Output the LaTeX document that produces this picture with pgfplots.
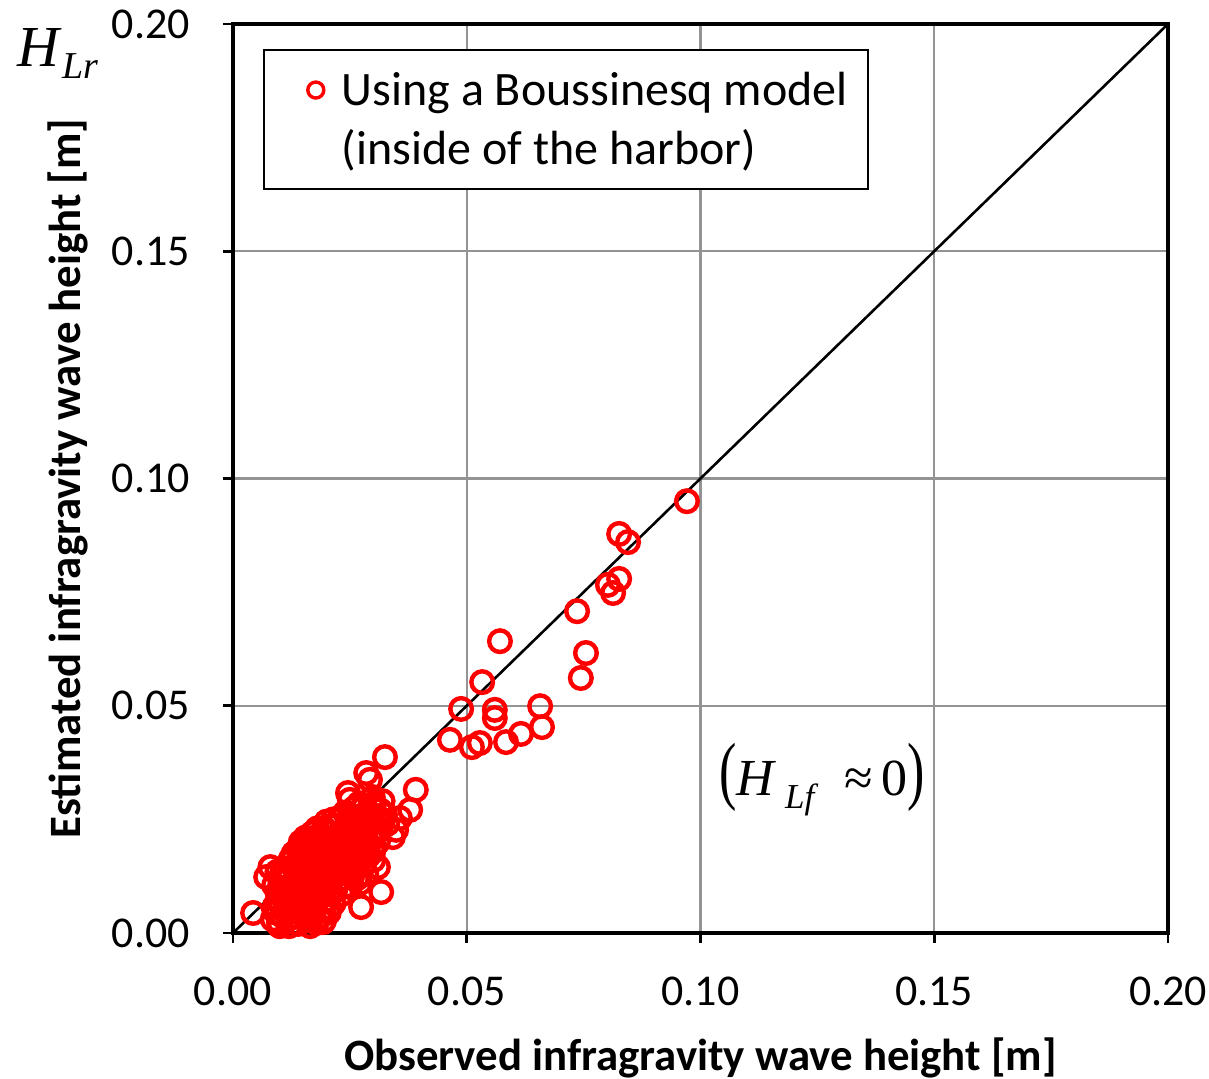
\documentclass[border=0pt]{standalone}
\usepackage{pgfplots}
\pgfplotsset{compat=1.18}
\usepackage{fontspec}
\setmainfont{Carlito}
\newfontfamily\tnr{Liberation Serif}
\pgfplotstableread{
x y
0.0971 0.0950
0.0826 0.0878
0.0845 0.0860
0.0826 0.0779
0.0802 0.0766
0.0813 0.0748
0.0736 0.0708
0.0755 0.0616
0.0744 0.0561
0.0571 0.0642
0.0533 0.0552
0.0488 0.0493
0.0560 0.0491
0.0560 0.0473
0.0657 0.0499
0.0661 0.0453
0.0464 0.0425
0.0511 0.0409
0.0528 0.0418
0.0584 0.0420
0.0616 0.0438
0.0325 0.0387
0.0285 0.0352
0.0293 0.0337
0.0391 0.0315
0.0379 0.0271
0.0357 0.0253
0.0246 0.0308
0.0250 0.0293
0.0349 0.0227
0.0342 0.0211
0.0310 0.0145
0.0317 0.0090
0.0274 0.0057
0.0193 0.0024
0.0043 0.0044
0.0071 0.0123
0.0272 0.0110
0.0250 0.0101
0.0299 0.0277
0.0299 0.0299
0.0080 0.0145
0.0095 0.0135
0.0085 0.0030
0.0092 0.0045
0.0098 0.0025
0.0105 0.0038
0.0112 0.0052
0.0118 0.0030
0.0125 0.0046
0.0132 0.0036
0.0140 0.0058
0.0150 0.0040
0.0160 0.0030
0.0172 0.0048
0.0185 0.0035
0.0195 0.0028
0.0205 0.0045
0.0090 0.0060
0.0100 0.0070
0.0110 0.0080
0.0095 0.0090
0.0108 0.0100
0.0118 0.0068
0.0128 0.0078
0.0136 0.0090
0.0145 0.0070
0.0155 0.0085
0.0165 0.0065
0.0175 0.0078
0.0185 0.0092
0.0195 0.0070
0.0210 0.0085
0.0220 0.0100
0.0088 0.0105
0.0100 0.0120
0.0112 0.0115
0.0122 0.0130
0.0132 0.0110
0.0142 0.0125
0.0150 0.0105
0.0160 0.0118
0.0170 0.0135
0.0180 0.0110
0.0190 0.0125
0.0200 0.0140
0.0210 0.0115
0.0225 0.0130
0.0235 0.0120
0.0245 0.0105
0.0255 0.0125
0.0110 0.0140
0.0120 0.0155
0.0130 0.0145
0.0140 0.0160
0.0150 0.0150
0.0160 0.0165
0.0170 0.0155
0.0180 0.0170
0.0190 0.0150
0.0200 0.0165
0.0210 0.0180
0.0220 0.0160
0.0230 0.0150
0.0240 0.0170
0.0250 0.0155
0.0260 0.0140
0.0270 0.0165
0.0280 0.0150
0.0130 0.0175
0.0140 0.0185
0.0150 0.0195
0.0160 0.0180
0.0170 0.0190
0.0180 0.0200
0.0190 0.0185
0.0200 0.0195
0.0210 0.0205
0.0220 0.0190
0.0230 0.0200
0.0240 0.0185
0.0250 0.0195
0.0260 0.0180
0.0270 0.0200
0.0280 0.0185
0.0290 0.0195
0.0300 0.0180
0.0155 0.0210
0.0170 0.0220
0.0185 0.0215
0.0195 0.0230
0.0205 0.0220
0.0215 0.0235
0.0225 0.0215
0.0235 0.0225
0.0245 0.0240
0.0255 0.0220
0.0265 0.0235
0.0275 0.0215
0.0285 0.0225
0.0295 0.0240
0.0305 0.0220
0.0315 0.0230
0.0200 0.0245
0.0215 0.0250
0.0230 0.0255
0.0250 0.0260
0.0270 0.0250
0.0290 0.0265
0.0310 0.0255
0.0320 0.0245
0.0260 0.0275
0.0280 0.0280
0.0300 0.0285
0.0315 0.0270
0.0100 0.0015
0.0120 0.0015
0.0140 0.0020
0.0165 0.0015
0.0178 0.0022
0.0115 0.0060
0.0135 0.0065
0.0155 0.0060
0.0175 0.0060
0.0195 0.0055
0.0215 0.0065
0.0102 0.0085
0.0122 0.0095
0.0142 0.0100
0.0162 0.0095
0.0182 0.0080
0.0200 0.0100
0.0232 0.0085
0.0238 0.0140
0.0117 0.0120
0.0137 0.0135
0.0157 0.0135
0.0177 0.0145
0.0197 0.0110
0.0217 0.0145
0.0247 0.0130
0.0265 0.0120
0.0285 0.0130
0.0125 0.0165
0.0145 0.0170
0.0165 0.0150
0.0185 0.0160
0.0205 0.0150
0.0225 0.0175
0.0245 0.0155
0.0265 0.0160
0.0290 0.0170
0.0300 0.0160
0.0145 0.0200
0.0165 0.0205
0.0185 0.0190
0.0215 0.0195
0.0235 0.0210
0.0255 0.0205
0.0275 0.0190
0.0295 0.0210
0.0310 0.0200
0.0180 0.0230
0.0210 0.0235
0.0240 0.0230
0.0260 0.0245
0.0280 0.0240
0.0300 0.0250
0.0325 0.0260
0.0240 0.0265
0.0270 0.0285
0.0320 0.0290
0.0330 0.0240
}\obsdata
\begin{document}
\begin{tikzpicture}
\useasboundingbox (-116.5pt,-73pt) rectangle (488pt,466.5pt);
\begin{axis}[
  at={(0,0)}, anchor=south west,
  scale only axis, width=467.5pt, height=454.5pt,
  xmin=0, xmax=0.2, ymin=0, ymax=0.2,
  xtick={0,0.05,0.1,0.15,0.2}, ytick={0,0.05,0.1,0.15,0.2},
  /pgf/number format/assume math mode=true,
  /pgf/number format/.cd, fixed, fixed zerofill, precision=2, /pgfplots/.cd,
  scaled ticks=false,
  grid=major, major grid style={gray!85, line width=1.1pt},
  axis line style={black, line width=2pt},
  tick style={black, line width=1.4pt},
  major tick length=5pt, tick align=outside,
  xtick pos=bottom, ytick pos=left,
  ticklabel style={font=\fontsize{22}{25}\selectfont},
  xticklabel style={yshift=-13.5pt},
  yticklabel style={xshift=-13pt},
  xlabel={\bfseries Observed infragravity wave height [m]},
  ylabel={\bfseries Estimated infragravity wave height [m]},
  label style={font=\fontsize{22.4}{26}\selectfont},
  xlabel style={yshift=-9pt},
  ylabel style={yshift=5pt},
  clip=false,
  legend style={at={(0.032,0.9725)}, anchor=north west, draw=black, line width=0.9pt,
    font=\fontsize{24}{28}\selectfont, inner xsep=8pt, inner ysep=9pt,
    row sep=6.5pt},
  legend cell align=left,
]
\addplot[black, line width=1.3pt, forget plot] coordinates {(0,0) (0.2,0.2)};
\addplot[only marks, mark=o, mark size=5.4pt, red, mark options={line width=2.2pt},
  legend image code/.code={\path[draw=none,fill=none] (-18pt,0) rectangle (11pt,0); \draw[red, line width=1.7pt] (0,0) circle (4pt);}]
  table[x=x,y=y] {\obsdata};
\addlegendentry{Using a Boussinesq model}
\addlegendimage{empty legend}
\addlegendentry{(inside of the harbor)}
\node[anchor=center, font=\tnr\fontsize{29}{32}\selectfont] at (rel axis cs:-0.187,0.968)
  {\textit{H}\raisebox{-0.45ex}{\fontsize{19}{20}\selectfont\textit{Lr}}};
\node[anchor=center, font=\tnr\fontsize{26}{29}\selectfont] at (axis cs:0.126,0.0337)
  {\scalebox{1}[1.45]{(}\textit{H}\,\raisebox{-0.55ex}{\fontsize{17.5}{18}\selectfont\textit{Lf}}\ \ ≈\,0\scalebox{1}[1.45]{)}};
\end{axis}
\end{tikzpicture}
\end{document}
